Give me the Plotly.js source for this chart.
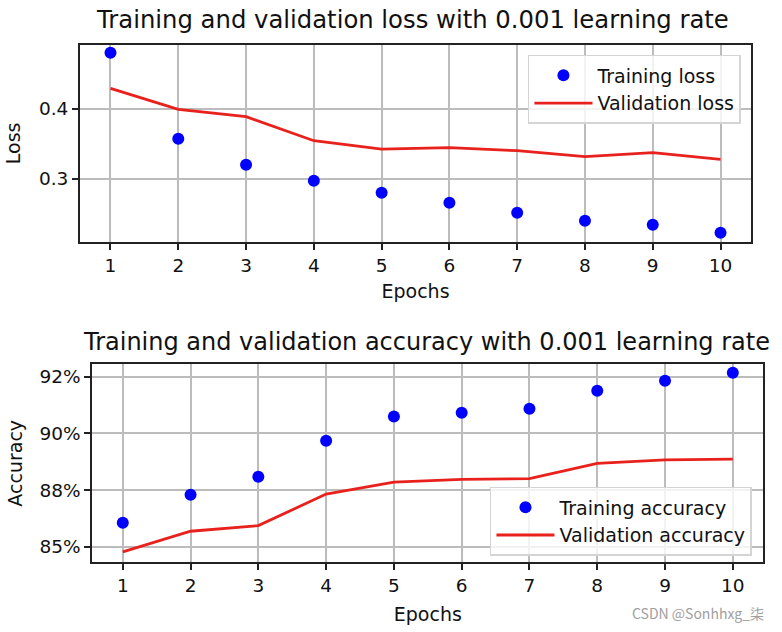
<!DOCTYPE html>
<html>
<head>
<meta charset="utf-8">
<script src="https://cdn.plot.ly/plotly-3.0.1.min.js"></script>
<style>html,body{margin:0;padding:0;background:#fff;}#chart{width:782px;height:632px;}</style>
</head>
<body>
<div id="chart"></div>
<script>
const epochs = [1,2,3,4,5,6,7,8,9,10];
const trainLoss = [0.4808,0.3574,0.3201,0.2971,0.2799,0.2656,0.2512,0.2397,0.2340,0.2225];
const valLoss = [0.4297,0.3995,0.3890,0.3545,0.3425,0.3445,0.3402,0.3316,0.3373,0.3278];
const trainAcc = [0.8606,0.8729,0.8809,0.8968,0.9074,0.9091,0.9109,0.9188,0.9232,0.9268];
const valAcc = [0.8477,0.8568,0.8593,0.8732,0.8785,0.8797,0.8800,0.8868,0.8883,0.8886];
const accTickVals = [0.85,0.875,0.9,0.925];
const accTickText = ['85%','88%','90%','92%'];
const lossTickVals = [0.3,0.4];
const lossTickText = ['0.3','0.4'];

const FONT = 'DejaVu Sans, sans-serif';
const blue = '#0000ff', red = '#e8211c';

const traces = [
  {x: epochs, y: trainLoss, type:'scatter', mode:'markers', name:'Training loss',
   marker:{color:blue, size:12}, xaxis:'x', yaxis:'y', legend:'legend'},
  {x: epochs, y: valLoss, type:'scatter', mode:'lines', name:'Validation loss',
   line:{color:red, width:2.8}, xaxis:'x', yaxis:'y', legend:'legend'},
  {x: epochs, y: trainAcc, type:'scatter', mode:'markers', name:'Training accuracy',
   marker:{color:blue, size:12}, xaxis:'x2', yaxis:'y2', legend:'legend2'},
  {x: epochs, y: valAcc, type:'scatter', mode:'lines', name:'Validation accuracy',
   line:{color:red, width:2.8}, xaxis:'x2', yaxis:'y2', legend:'legend2'}
];

const axCommon = {
  showline:true, linecolor:'#222', linewidth:2, mirror:true,
  showgrid:true, gridcolor:'#bcbcbc', gridwidth:2,
  ticks:'outside', ticklen:6, tickwidth:2, tickcolor:'#222',
  tickfont:{family:FONT, size:18.5, color:'#111'}, zeroline:false
};
const titleFont = {family:FONT, size:19, color:'#111'};

const layout = {
  width:782, height:632,
  margin:{l:0,r:0,t:0,b:0},
  paper_bgcolor:'#fff', plot_bgcolor:'#fff',
  font:{family:FONT, color:'#111'},
  xaxis: Object.assign({}, axCommon, {domain:[0.1023,0.9604], range:[0.55,10.45], tickvals:epochs, anchor:'y',
     title:{text:'Epochs', font:titleFont, standoff:10}}),
  yaxis: Object.assign({}, axCommon, {domain:[0.6171,0.9293], range:[0.2092,0.4923], tickvals:lossTickVals, ticktext:lossTickText, anchor:'x',
     title:{text:'Loss', font:titleFont, standoff:13}}),
  xaxis2: Object.assign({}, axCommon, {domain:[0.118,0.9761], range:[0.55,10.45], tickvals:epochs, anchor:'y2',
     title:{text:'Epochs', font:titleFont, standoff:12}}),
  yaxis2: Object.assign({}, axCommon, {domain:[0.1103,0.4236], range:[0.8431,0.9305], tickvals:accTickVals, ticktext:accTickText, anchor:'x2',
     title:{text:'Accuracy', font:titleFont, standoff:12}}),
  legend: {x:0.9475, y:0.913, xanchor:'right', yanchor:'top', bgcolor:'rgba(255,255,255,0.8)',
     bordercolor:'#d4d4d4', borderwidth:1.5, itemwidth:58, font:{family:FONT,size:19,color:'#111'}},
  legend2: {x:0.9616, y:0.2295, xanchor:'right', yanchor:'top', bgcolor:'rgba(255,255,255,0.8)',
     bordercolor:'#d4d4d4', borderwidth:1.5, itemwidth:58, font:{family:FONT,size:19,color:'#111'}},
  showlegend:true,
  annotations:[
    {text:'Training and validation loss with 0.001 learning rate', xref:'paper', yref:'paper',
     x:412.5/782, y:1-20/632, xanchor:'center', yanchor:'middle', showarrow:false,
     font:{family:FONT,size:24.3,color:'#111'}},
    {text:'Training and validation accuracy with 0.001 learning rate', xref:'paper', yref:'paper',
     x:426/782, y:1-342/632, xanchor:'center', yanchor:'middle', showarrow:false,
     font:{family:FONT,size:24,color:'#111'}},
    {text:'CSDN @Sonhhxg_柒', xref:'paper', yref:'paper', x:766/782, y:1-613/632,
     xanchor:'right', yanchor:'middle', showarrow:false,
     font:{family:'Noto Sans CJK SC, DejaVu Sans, sans-serif', size:14, color:'#a0a0a0'}}
  ]
};

Plotly.newPlot('chart', traces, layout, {displayModeBar:false, staticPlot:true});
</script>
</body>
</html>
